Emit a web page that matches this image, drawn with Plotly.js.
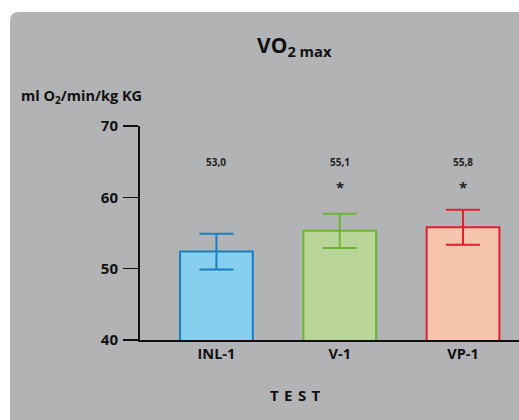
<!DOCTYPE html>
<html>
<head>
<meta charset="utf-8">
<script src="https://cdn.plot.ly/plotly-3.0.1.min.js"></script>
<style>html,body{margin:0;padding:0;background:#fff;}#chart{width:519px;height:420px;}</style>
</head>
<body>
<div id="chart"></div>
<script>
const categories = ["INL-1", "V-1", "VP-1"];
const values = [52.4, 55.3, 55.8];
const errors = [2.5, 2.4, 2.45];
const meanLabels = ["53,0", "55,1", "55,8"];
const sigMarks = ["", "*", "*"];
const fillColors = ["#87cfef", "#b9d698", "#f7c4ad"];
const lineColors = ["#1a7fc0", "#6bb536", "#e0202f"];

const W = 519, H = 420;
const M = {l: 140, r: 0, t: 126, b: 80};
const pw = W - M.l - M.r, ph = H - M.t - M.b;
const px = x => (x - M.l) / pw;
const py = y => (H - M.b - y) / ph;

const FONT = "Open Sans, Lato, sans-serif";

const traces = categories.map((c, i) => ({
  type: "bar",
  x: [c],
  y: [values[i]],
  width: 0.59,
  marker: {color: fillColors[i], line: {color: lineColors[i], width: 2}},
  error_y: {type: "data", array: [errors[i]], visible: true, color: lineColors[i], thickness: 2, width: 17},
  hoverinfo: "none",
  showlegend: false
}));

// card with rounded top-left corner
const L = 10, T = 12, R = 540, B = 440, rad = 9;
const cardPath = `M ${px(L)} ${py(T + rad)} Q ${px(L)} ${py(T)} ${px(L + rad)} ${py(T)} L ${px(R)} ${py(T)} L ${px(R)} ${py(B)} L ${px(L)} ${py(B)} Z`;

const annotations = [
  {xref: "paper", yref: "paper", x: px(294), y: py(46), text: "VO<sub>2 max</sub>", showarrow: false,
   font: {family: FONT, size: 21, color: "#111", weight: 700}, xanchor: "center", yanchor: "middle"},
  {xref: "paper", yref: "paper", x: px(19), y: py(97), text: "ml O<sub>2</sub>/min/kg KG", showarrow: false,
   font: {family: FONT, size: 14.5, color: "#111", weight: 700}, xanchor: "left", yanchor: "middle"},
  {xref: "paper", yref: "paper", x: px(295), y: py(395), text: "T&#8202; E&#8202; S&#8202; T", showarrow: false,
   font: {family: FONT, size: 15, color: "#111", weight: 700}, xanchor: "center", yanchor: "middle"}
];
categories.forEach((c, i) => {
  annotations.push({x: c, y: py(162), xref: "x", yref: "paper", text: meanLabels[i], showarrow: false,
    font: {family: FONT, size: 10, color: "#222", weight: 700}, xanchor: "center", yanchor: "middle"});
  if (sigMarks[i]) annotations.push({x: c, y: py(187), xref: "x", yref: "paper", text: sigMarks[i], showarrow: false,
    font: {family: FONT, size: 15, color: "#222", weight: 700}, xanchor: "center", yanchor: "middle"});
});

const layout = {
  width: W, height: H,
  margin: M,
  paper_bgcolor: "#ffffff",
  plot_bgcolor: "rgba(0,0,0,0)",
  barmode: "overlay",
  showlegend: false,
  font: {family: FONT, color: "#111"},
  xaxis: {
    type: "category", range: [-0.62, 2.454], showline: true, linecolor: "#111", linewidth: 2,
    ticks: "", showgrid: false, zeroline: false, fixedrange: true,
    tickfont: {family: FONT, size: 14.5, color: "#111", weight: 700}
  },
  yaxis: {
    range: [40, 70], tickvals: [40, 50, 60, 70], showline: true, linecolor: "#111", linewidth: 2,
    ticks: "outside", ticklen: 15, tickwidth: 1.5, tickcolor: "#111", showgrid: false, zeroline: false,
    tickfont: {family: FONT, size: 15, color: "#111", weight: 700}, ticklabelstandoff: 2
  },
  shapes: [{type: "path", xref: "paper", yref: "paper", path: cardPath, fillcolor: "#b2b3b5", line: {width: 0}, layer: "below"}],
  annotations: annotations
};

Plotly.newPlot("chart", traces, layout, {staticPlot: true, displayModeBar: false});
</script>
</body>
</html>
